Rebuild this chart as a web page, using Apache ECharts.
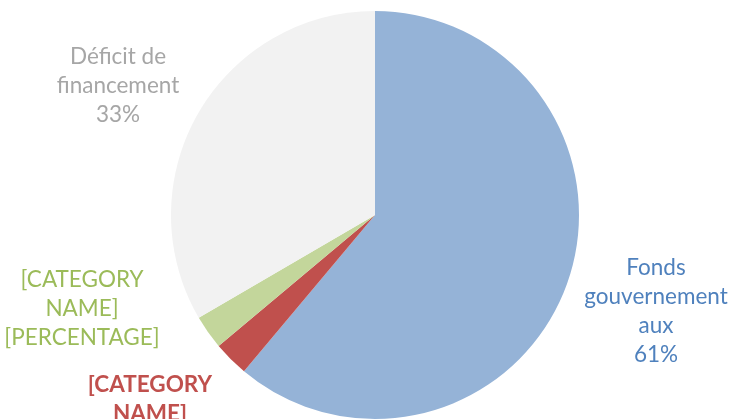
<!DOCTYPE html>
<html><head><meta charset="utf-8">
<script src="https://cdn.jsdelivr.net/npm/echarts@6/dist/echarts.min.js"></script>
<style>html,body{margin:0;padding:0;background:#fff}#c{width:730px;height:419px}</style>
</head><body><div id="c"></div>
<script>
const categories = ["Fonds gouvernementaux", "[CATEGORY NAME] A", "[CATEGORY NAME] B", "Déficit de financement"];
const values = [61.1, 2.8, 2.7, 33.4];
const labelNames = ["Fonds\ngouvernement\naux", "[CATEGORY\nNAME]", "[CATEGORY\nNAME]", "Déficit de\nfinancement"];
const showPercent = [true, false, false, true];
const sliceColors = ["#95b3d7", "#c0504d", "#c3d69b", "#f2f2f2"];
const textColors = ["#4f81bd", "#c0504d", "#9bbb59", "#a6a6a6"];
const boldLabel = [false, true, false, false];
const labelPos = [[656, 311], [150, 414], [82, 309], [118, 86]];

const chart = echarts.init(document.getElementById('c'));
chart.setOption({
  animation: false,
  series: [{
    type: 'pie',
    center: [375, 215],
    radius: 204,
    startAngle: 90,
    clockwise: true,
    silent: true,
    labelLine: { show: false },
    label: {
      show: true,
      position: 'outside',
      fontFamily: 'Lato',
      fontSize: 22.5,
      lineHeight: 29,
      align: 'center',
      overflow: 'none',
      width: 200,
      formatter: p => labelNames[p.dataIndex] + '\n' + (showPercent[p.dataIndex] ? Math.round(p.percent) + '%' : '[PERCENTAGE]')
    },
    labelLayout: p => ({ x: labelPos[p.dataIndex][0], y: labelPos[p.dataIndex][1], align: 'center', verticalAlign: 'middle' }),
    data: categories.map((c, i) => ({
      name: c,
      value: values[i],
      itemStyle: { color: sliceColors[i] },
      label: { color: textColors[i], fontWeight: boldLabel[i] ? 'bold' : 'normal' }
    }))
  }]
});
</script></body></html>
